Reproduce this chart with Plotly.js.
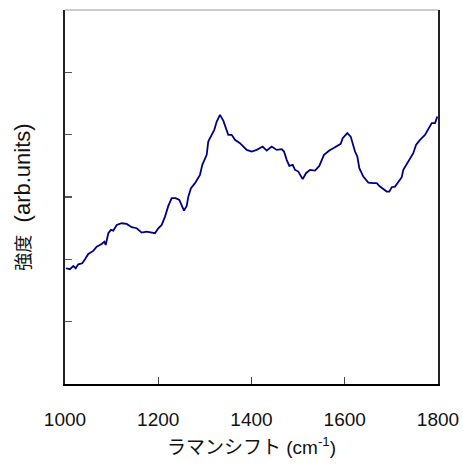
<!DOCTYPE html>
<html>
<head>
<meta charset="utf-8">
<script src="https://cdn.plot.ly/plotly-3.0.1.min.js"></script>
<style>html,body{margin:0;padding:0;background:#fff;}#chart{width:463px;height:465px;}</style>
</head>
<body>
<div id="chart"></div>
<script>
const ramanShift = [1002.1,1010.7,1017.8,1022.9,1028.5,1037.1,1042.9,1050.0,1060.7,1068.0,1078.7,1084.3,1087.3,1092.9,1098.7,1103.6,1110.9,1121.6,1132.3,1143.1,1153.8,1164.5,1175.2,1186.0,1193.0,1200.1,1207.4,1214.5,1221.6,1228.8,1237.4,1245.2,1250.3,1255.2,1261.0,1264.5,1270.2,1278.8,1289.5,1294.5,1303.9,1307.3,1314.6,1320.2,1325.4,1332.4,1339.5,1344.7,1350.2,1357.5,1364.6,1375.3,1389.7,1400.4,1411.2,1424.0,1432.6,1443.3,1454.1,1464.8,1469.7,1475.5,1481.1,1488.4,1493.3,1500.4,1509.8,1516.9,1525.5,1536.2,1545.4,1555.5,1566.9,1579.1,1591.3,1595.6,1605.5,1612.8,1622.0,1627.0,1631.3,1639.8,1650.5,1661.3,1668.5,1675.6,1682.7,1690.0,1695.6,1700.7,1707.8,1714.9,1722.2,1725.6,1736.3,1747.0,1752.8,1761.4,1772.1,1779.2,1786.5,1793.6,1798.5];
const intensity = [1.857,1.841,1.894,1.857,1.921,1.937,2.002,2.087,2.135,2.204,2.247,2.284,2.231,2.419,2.472,2.461,2.552,2.579,2.568,2.515,2.499,2.429,2.445,2.429,2.419,2.499,2.552,2.685,2.857,2.981,2.981,2.953,2.873,2.782,2.857,3.006,3.141,3.222,3.355,3.515,3.676,3.889,3.997,4.077,4.210,4.318,4.226,4.130,3.997,3.997,3.917,3.864,3.756,3.729,3.756,3.809,3.745,3.809,3.756,3.767,3.729,3.596,3.499,3.515,3.435,3.408,3.286,3.382,3.435,3.424,3.499,3.676,3.745,3.799,3.852,3.944,4.024,3.969,3.729,3.648,3.462,3.327,3.231,3.222,3.222,3.167,3.125,3.087,3.087,3.157,3.167,3.247,3.318,3.435,3.568,3.703,3.836,3.917,3.997,4.088,4.185,4.185,4.291];
const xTicks = [1000,1200,1400,1600,1800];
const yTicks = [0,1,2,3,4,5,6];
const xTitle = 'ラマンシフト (cm<sup>-1</sup>)';
const yTitle = '<span style="font-size:18px">強度</span>\u00a0\u00a0(arb.units)';

const fam = 'Liberation Sans, Arial, Noto Sans CJK JP, sans-serif';
Plotly.newPlot('chart', [{
  x: ramanShift, y: intensity, type: 'scatter', mode: 'lines',
  line: {color: '#000080', width: 1.8}, hoverinfo: 'skip'
}], {
  width: 463, height: 465,
  margin: {l: 65, r: 25, t: 10, b: 81},
  paper_bgcolor: '#fff', plot_bgcolor: '#fff',
  showlegend: false,
  font: {family: fam, color: '#111'},
  xaxis: {
    range: [1000, 1800], tickvals: xTicks, ticktext: xTicks.map(String),
    ticks: 'inside', ticklen: 7, tickwidth: 1, tickcolor: '#444',
    showline: true, linecolor: '#000', linewidth: 1.5, mirror: false,
    showgrid: false, zeroline: false,
    tickfont: {size: 19, family: fam, color: '#111'},
    ticklabelstandoff: 18,
    title: {text: xTitle, font: {size: 19, family: fam, color: '#111'}, standoff: 11}
  },
  yaxis: {
    range: [0, 6], tickvals: yTicks, showticklabels: false,
    ticks: 'inside', ticklen: 7, tickwidth: 1.2, tickcolor: '#555',
    showline: true, linecolor: '#222', linewidth: 2, mirror: true,
    showgrid: false, zeroline: false,
    title: {text: yTitle, font: {size: 22, family: fam, color: '#111'}, standoff: 26}
  },
  shapes: [{type: 'line', xref: 'paper', yref: 'paper', x0: 0, x1: 1, y0: 1, y1: 1,
    line: {color: '#999', width: 1.2}}]
}, {displayModeBar: false, staticPlot: true});
</script>
</body>
</html>
